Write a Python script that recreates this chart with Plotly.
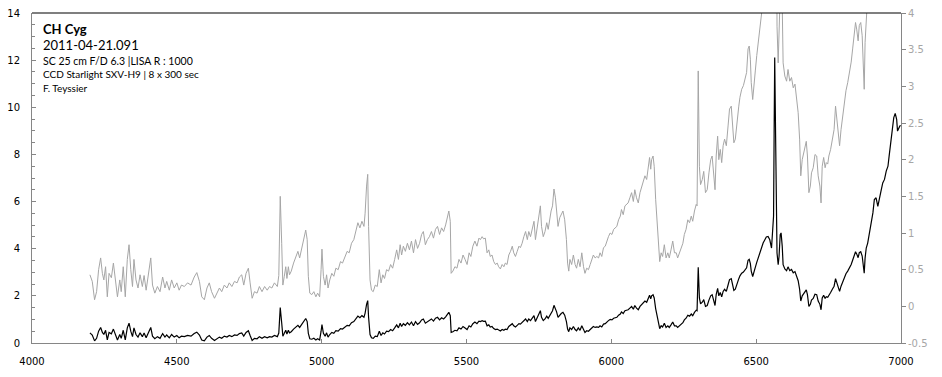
import plotly.graph_objects as go

# Spectrum of CH Cyg (wavelength in Angstrom, relative flux)
seg_4200_4870 = [
    (4200, 0.43), (4208, 0.34), (4216, 0.09), (4223, 0.20), (4230, 0.50), (4237, 0.66),
    (4243, 0.45), (4248, 0.36), (4254, 0.54), (4260, 0.13), (4266, 0.45), (4274, 0.39),
    (4281, 0.59), (4287, 0.42), (4295, 0.13), (4303, 0.36), (4308, 0.20), (4315, 0.54),
    (4322, 0.13), (4329, 0.64), (4335, 0.84), (4341, 0.50), (4347, 0.27), (4352, 0.64),
    (4359, 0.36), (4366, 0.25), (4373, 0.43), (4381, 0.27), (4387, 0.42), (4394, 0.22),
    (4402, 0.43), (4410, 0.66), (4416, 0.29), (4424, 0.18), (4433, 0.27), (4442, 0.20),
    (4451, 0.40), (4459, 0.25), (4465, 0.34), (4474, 0.22), (4482, 0.36), (4491, 0.25),
    (4500, 0.32), (4508, 0.22), (4516, 0.29), (4526, 0.27), (4537, 0.32), (4549, 0.29),
    (4560, 0.40), (4569, 0.46), (4578, 0.34), (4586, 0.13), (4595, 0.09), (4604, 0.25),
    (4612, 0.32), (4620, 0.20), (4630, 0.11), (4638, 0.18), (4647, 0.25), (4655, 0.20),
    (4664, 0.29), (4673, 0.25), (4681, 0.32), (4690, 0.27), (4699, 0.34), (4708, 0.32),
    (4716, 0.40), (4724, 0.43), (4731, 0.29), (4739, 0.45), (4747, 0.52), (4753, 0.32),
    (4760, 0.11), (4768, 0.20), (4777, 0.18), (4785, 0.27), (4794, 0.20), (4803, 0.27),
    (4812, 0.22), (4820, 0.27), (4828, 0.25), (4837, 0.32), (4847, 0.27), (4852, 0.42),
    (4857, 1.50), (4862, 0.86), (4866, 0.29),
]

seg_4870_5545 = [
    (4871, 0.41), (4876, 0.54), (4880, 0.38), (4885, 0.54), (4889, 0.43), (4895, 0.48),
    (4903, 0.59), (4910, 0.68), (4918, 0.75), (4924, 0.66), (4931, 0.79), (4938, 0.93),
    (4945, 1.04), (4950, 0.91), (4954, 0.41), (4959, 0.18), (4966, 0.16), (4973, 0.20),
    (4980, 0.13), (4986, 0.18), (4993, 0.13), (4998, 0.50), (5001, 0.78), (5006, 0.41),
    (5012, 0.29), (5017, 0.43), (5022, 0.25), (5028, 0.36), (5035, 0.45), (5042, 0.41),
    (5049, 0.52), (5057, 0.50), (5065, 0.61), (5072, 0.59), (5080, 0.68), (5088, 0.75),
    (5095, 0.73), (5103, 0.86), (5111, 0.91), (5118, 1.02), (5125, 1.14), (5132, 1.07),
    (5139, 1.16), (5146, 1.09), (5150, 1.27), (5155, 1.64), (5159, 1.80), (5162, 1.09),
    (5167, 0.36), (5172, 0.22), (5178, 0.20), (5185, 0.29), (5192, 0.27), (5199, 0.50),
    (5205, 0.32), (5211, 0.43), (5217, 0.38), (5224, 0.50), (5231, 0.48), (5238, 0.57),
    (5245, 0.52), (5252, 0.64), (5259, 0.77), (5265, 0.64), (5271, 0.84), (5276, 0.70),
    (5282, 0.82), (5289, 0.75), (5296, 0.86), (5303, 0.77), (5310, 0.89), (5317, 0.73),
    (5324, 0.91), (5331, 0.79), (5338, 0.86), (5345, 0.98), (5351, 1.02), (5358, 0.84),
    (5365, 0.91), (5372, 0.95), (5379, 1.02), (5386, 0.93), (5393, 1.05), (5400, 1.09),
    (5407, 0.98), (5414, 1.07), (5421, 1.02), (5428, 1.11), (5435, 1.21), (5439, 1.30),
    (5444, 1.16), (5447, 0.45), (5453, 0.48), (5460, 0.54), (5467, 0.52), (5474, 0.64),
    (5481, 0.59), (5488, 0.70), (5495, 0.64), (5502, 0.57), (5509, 0.73), (5515, 0.68),
    (5522, 0.82), (5529, 0.89), (5536, 0.82), (5543, 0.93),
]

seg_5545_6220 = [
    (5548, 0.91), (5554, 0.95), (5559, 0.92), (5565, 0.93), (5571, 0.73), (5577, 0.77),
    (5582, 0.68), (5588, 0.70), (5594, 0.61), (5600, 0.57), (5606, 0.59), (5611, 0.54),
    (5617, 0.51), (5623, 0.57), (5629, 0.54), (5634, 0.59), (5640, 0.57), (5646, 0.70),
    (5652, 0.75), (5658, 0.82), (5663, 0.73), (5669, 0.68), (5675, 0.75), (5681, 0.82),
    (5686, 0.80), (5692, 0.86), (5698, 0.95), (5704, 1.02), (5710, 0.91), (5715, 1.02),
    (5721, 0.95), (5727, 1.07), (5733, 1.16), (5738, 0.91), (5744, 1.09), (5750, 1.23),
    (5755, 1.37), (5759, 1.09), (5765, 0.95), (5771, 1.02), (5777, 1.14), (5782, 1.05),
    (5787, 1.18), (5792, 1.30), (5797, 1.37), (5802, 1.60), (5807, 1.48), (5811, 1.32),
    (5816, 1.09), (5822, 1.21), (5827, 1.25), (5833, 1.30), (5839, 1.18), (5845, 0.91),
    (5849, 0.59), (5853, 0.48), (5857, 0.64), (5863, 0.57), (5869, 0.70), (5875, 0.57),
    (5880, 0.52), (5886, 0.64), (5892, 0.54), (5898, 0.73), (5904, 0.54), (5909, 0.45),
    (5915, 0.52), (5921, 0.50), (5927, 0.57), (5932, 0.64), (5938, 0.70), (5944, 0.66),
    (5950, 0.68), (5956, 0.66), (5961, 0.73), (5967, 0.68), (5973, 0.80), (5979, 0.82),
    (5984, 0.89), (5990, 0.95), (5996, 1.00), (6002, 0.98), (6008, 1.05), (6013, 1.07),
    (6019, 1.09), (6025, 1.18), (6031, 1.23), (6035, 1.32), (6041, 1.25), (6047, 1.37),
    (6053, 1.39), (6058, 1.41), (6064, 1.48), (6070, 1.55), (6076, 1.43), (6081, 1.59),
    (6087, 1.48), (6093, 1.41), (6099, 1.55), (6105, 1.64), (6110, 1.71), (6116, 1.78),
    (6122, 1.73), (6128, 1.93), (6132, 2.03), (6136, 1.87), (6139, 2.00), (6144, 2.05),
    (6148, 1.91), (6153, 1.46), (6158, 1.09), (6162, 0.86), (6167, 0.61), (6172, 0.73),
    (6177, 0.68), (6183, 0.84), (6189, 0.66), (6195, 0.73), (6200, 0.66), (6206, 0.77),
    (6212, 0.89), (6218, 0.73),
]

seg_6220_7000 = [
    (6224, 0.73), (6229, 0.66), (6235, 0.73), (6241, 0.77), (6247, 0.86), (6252, 0.98),
    (6258, 1.05), (6264, 1.18), (6270, 1.14), (6276, 1.23), (6281, 1.16), (6287, 1.30),
    (6293, 1.39), (6296, 1.37), (6300, 3.21), (6304, 1.91), (6308, 1.66), (6314, 1.73),
    (6319, 1.84), (6325, 1.55), (6331, 1.59), (6337, 1.82), (6343, 2.00), (6348, 2.05),
    (6353, 1.82), (6358, 1.59), (6362, 2.05), (6367, 2.32), (6371, 2.00), (6376, 2.14),
    (6381, 1.96), (6386, 2.19), (6391, 2.28), (6397, 2.19), (6403, 2.46), (6408, 2.69),
    (6414, 2.73), (6419, 2.46), (6423, 2.23), (6428, 2.28), (6434, 2.55), (6440, 2.73),
    (6444, 2.85), (6450, 2.96), (6456, 3.01), (6461, 3.10), (6467, 3.19), (6472, 3.51),
    (6476, 3.55), (6480, 3.37), (6483, 3.05), (6488, 2.82), (6493, 3.10), (6497, 3.21),
    (6502, 3.42), (6507, 3.62), (6512, 3.82), (6518, 4.03), (6524, 4.24), (6530, 4.38),
    (6535, 4.50), (6541, 4.52), (6547, 4.38), (6553, 4.03), (6556, 4.67), (6560, 5.38),
    (6562, 8.90), (6564, 12.11), (6567, 8.90), (6569, 4.81), (6572, 3.82), (6576, 3.32),
    (6579, 3.67), (6583, 4.60), (6586, 4.67), (6590, 4.10), (6593, 3.32), (6599, 3.14),
    (6605, 3.07), (6610, 3.23), (6616, 3.07), (6622, 3.12), (6628, 2.98), (6634, 3.03),
    (6639, 2.87), (6645, 2.64), (6650, 2.28), (6654, 1.78), (6659, 2.00), (6664, 2.09),
    (6668, 2.19), (6673, 2.25), (6677, 2.05), (6682, 1.55), (6687, 1.64), (6691, 1.82),
    (6697, 1.89), (6703, 2.07), (6709, 2.05), (6714, 1.78), (6720, 1.64), (6724, 1.41),
    (6728, 1.91), (6733, 2.03), (6738, 1.89), (6742, 1.96), (6747, 1.94), (6751, 2.05),
    (6757, 2.14), (6763, 2.28), (6769, 2.41), (6774, 2.73), (6779, 2.50), (6784, 2.32),
    (6788, 2.19), (6793, 2.41), (6799, 2.60), (6805, 2.82), (6810, 2.94), (6816, 3.05),
    (6822, 3.17), (6828, 3.33), (6833, 3.51), (6838, 3.74), (6843, 3.87), (6847, 3.78),
    (6852, 3.62), (6856, 3.83), (6861, 3.87), (6866, 3.69), (6869, 3.28), (6873, 2.96),
    (6876, 3.60), (6880, 4.03), (6885, 4.24), (6891, 4.67), (6897, 4.95), (6903, 5.52),
    (6908, 6.09), (6914, 6.16), (6920, 5.80), (6926, 6.09), (6932, 6.51), (6937, 6.79),
    (6943, 6.94), (6949, 7.29), (6955, 7.50), (6959, 7.93), (6963, 8.35), (6966, 8.78),
    (6971, 9.28), (6975, 9.56), (6980, 9.74), (6985, 9.49), (6988, 8.99), (6992, 9.13),
    (6996, 9.21), (6999, 9.23),
]

x_ticks = [4000, 4500, 5000, 5500, 6000, 6500, 7000]
left_ticks = [0, 2, 4, 6, 8, 10, 12, 14]
right_ticks = [-0.5, 0, 0.5, 1, 1.5, 2, 2.5, 3, 3.5, 4]
right_labels = ["-0.5", "0", "0.5", "1", "1.5", "2", "2.5", "3", "3.5", "4"]

info_lines = [
    ("<b>CH Cyg</b>", 13),
    ("2011-04-21.091", 13),
    ("SC 25 cm F/D 6.3 |LISA R : 1000", 10.5),
    ("CCD Starlight SXV-H9 | 8 x 300 sec", 10),
    ("F. Teyssier", 10),
]
info_y = [0.953, 0.902, 0.856, 0.814, 0.774]

pairs = seg_4200_4870 + seg_4870_5545 + seg_5545_6220 + seg_6220_7000
wl = [p[0] for p in pairs]
flux = [p[1] for p in pairs]

fig = go.Figure()
# gray copy on the right-hand scale (drawn first, underneath)
fig.add_trace(go.Scatter(x=wl, y=flux, mode="lines", yaxis="y",
                         line=dict(color="#a6a6a6", width=1.0), showlegend=False))
# black on the left-hand scale
fig.add_trace(go.Scatter(x=wl, y=flux, mode="lines", yaxis="y2",
                         line=dict(color="#000000", width=1.2), showlegend=False))

tick_font = dict(family="DejaVu Sans", size=10, color="#000000")

fig.update_layout(
    width=942, height=377,
    margin=dict(l=32, r=41, t=13, b=34, autoexpand=False),
    paper_bgcolor="white", plot_bgcolor="white",
    xaxis=dict(range=[4000, 7000], tickvals=x_ticks, showgrid=False, zeroline=False,
               showline=True, linecolor="#868686", linewidth=1, automargin=False,
               ticks="inside", ticklen=4, tickcolor="#868686",
               tickfont=tick_font, ticklabelstandoff=9),
    yaxis=dict(range=[-0.5, 4], side="right", tickvals=right_ticks, ticktext=right_labels,
               showgrid=False, zeroline=False, showline=True, linecolor="#868686",
               linewidth=1, ticks="outside", ticklen=4, tickcolor="#868686", automargin=False,
               tickfont=dict(family="DejaVu Sans", size=10, color="#a6a6a6")),
    yaxis2=dict(range=[0, 14], side="left", overlaying="y", tickvals=left_ticks,
                showgrid=False, zeroline=False, showline=True, linecolor="#868686",
                linewidth=1, ticks="inside", ticklen=4, tickcolor="#868686", automargin=False,
                minor=dict(dtick=0.5, ticks="inside", ticklen=3, tickcolor="#868686"),
                tickfont=tick_font, ticklabelstandoff=9),
    shapes=[dict(type="line", xref="paper", yref="paper", x0=0, x1=1, y0=1, y1=1,
                 line=dict(color="#000000", width=1.2))],
)

for (txt, size), yy in zip(info_lines, info_y):
    fig.add_annotation(text=txt, xref="paper", yref="paper", x=0.0105, y=yy,
                       xanchor="left", yanchor="middle", showarrow=False,
                       font=dict(family="Lato", size=size, color="#000000"))

fig.write_html("out.html")
